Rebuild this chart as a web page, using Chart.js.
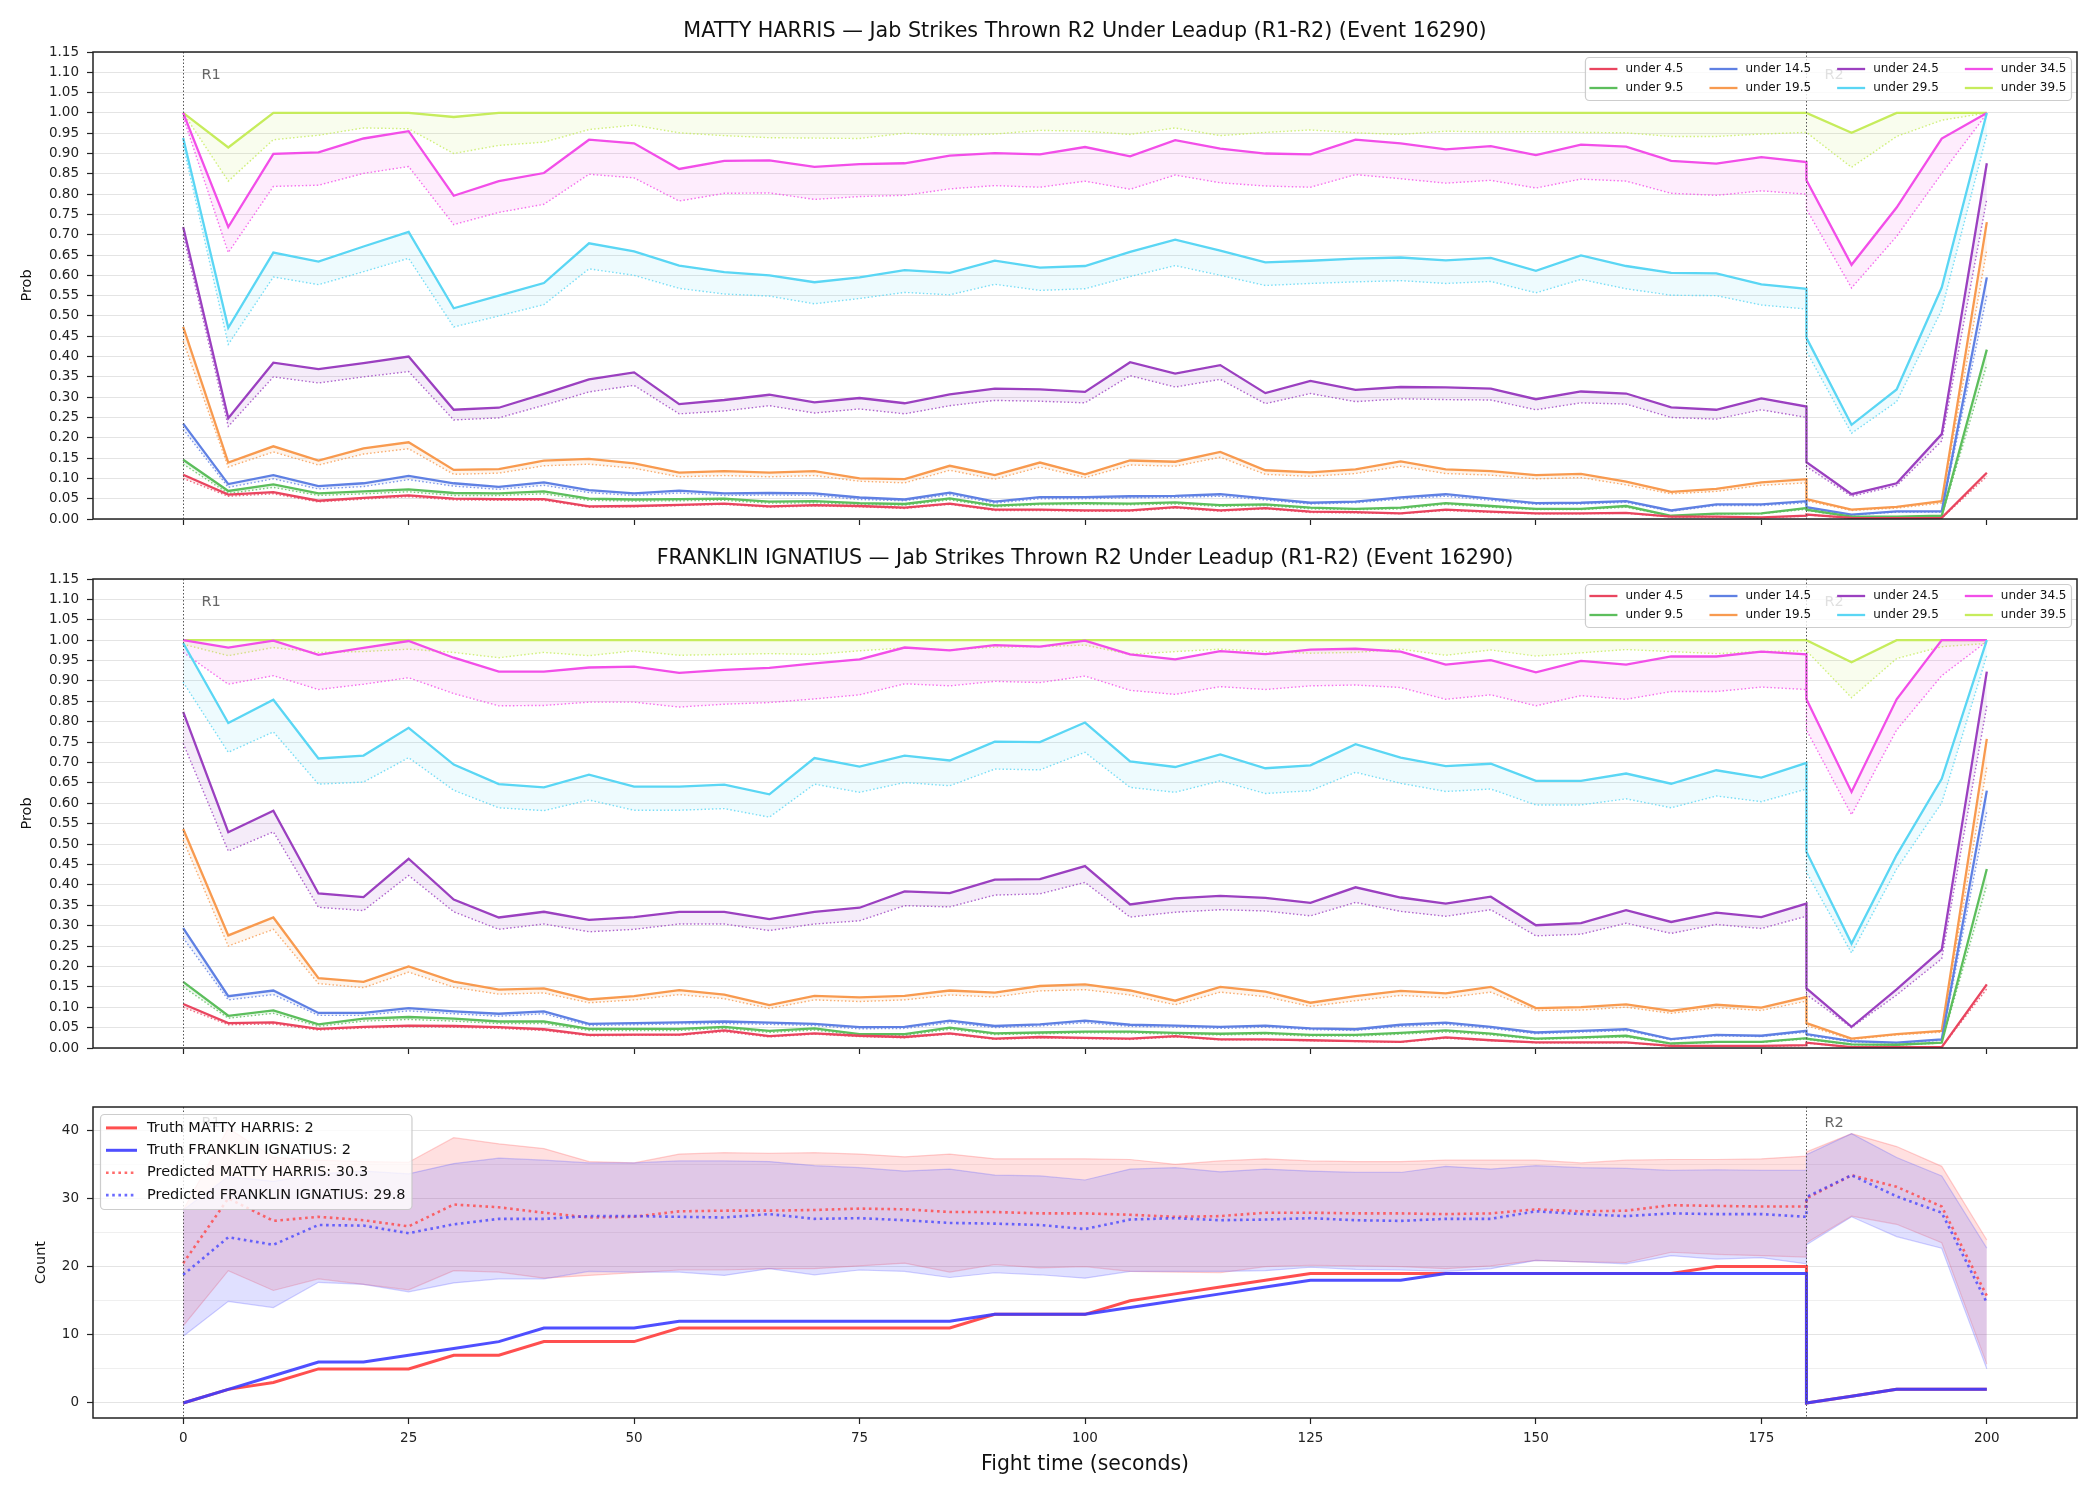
<!DOCTYPE html>
<html>
<head>
<meta charset="utf-8">
<script src="https://cdn.jsdelivr.net/npm/chart.js@4.4.0/dist/chart.umd.min.js"></script>
<style>
  html, body { margin: 0; padding: 0; background: #fff; }
  #wrap { position: relative; width: 2100px; height: 1500px; }
  canvas { position: absolute; left: 0; }
</style>
</head>
<body>
<div id="wrap">
  <canvas id="c1" width="2100" height="540" style="top:0;width:2100px;height:540px"></canvas>
  <canvas id="c2" width="2100" height="530" style="top:540px;width:2100px;height:530px"></canvas>
  <canvas id="c3" width="2100" height="430" style="top:1070px;width:2100px;height:430px"></canvas>
</div>
<script>
/* ----- time axis (R1 runs 0..180, R2 restarts at 180) ----- */
const timeR1 = [0,5,10,15,20,25,30,35,40,45,50,55,60,65,70,75,80,85,90,95,100,105,110,115,120,125,130,135,140,145,150,155,160,165,170,175,180];
const timeR2 = [180,185,190,195,200];
const xTicks = [0,25,50,75,100,125,150,175,200];
const probTicks = [0,0.05,0.1,0.15,0.2,0.25,0.3,0.35,0.4,0.45,0.5,0.55,0.6,0.65,0.7,0.75,0.8,0.85,0.9,0.95,1,1.05,1.1,1.15];
const countTicks = [0,5,10,15,20,25,30,35,40];
const roundStarts = [0, 180];
const roundLabels = ['R1', 'R2'];
const thresholds = ['under 4.5','under 9.5','under 14.5','under 19.5','under 24.5','under 29.5','under 34.5','under 39.5'];

/* ----- MATTY HARRIS : prob lines (solid) and lower dotted ----- */
const harrisU4   = [0.109,0.06,0.066,0.045,0.052,0.058,0.05,0.049,0.049,0.031,0.032,0.035,0.038,0.031,0.034,0.032,0.028,0.038,0.023,0.023,0.021,0.021,0.029,0.021,0.027,0.018,0.017,0.014,0.023,0.018,0.014,0.014,0.015,0.006,0.006,0.004,0.008, 0.011,0.003,0.002,0.003,0.114];
const harrisU4Lo = [0.10,0.056,0.062,0.042,0.049,0.055,0.047,0.046,0.046,0.029,0.03,0.033,0.036,0.029,0.032,0.03,0.026,0.036,0.021,0.021,0.019,0.019,0.027,0.019,0.025,0.016,0.015,0.013,0.021,0.016,0.013,0.013,0.014,0.005,0.005,0.003,0.007, 0.01,0.002,0.002,0.002,0.105];
const harrisU9   = [0.146,0.069,0.085,0.063,0.068,0.073,0.064,0.063,0.068,0.05,0.048,0.049,0.05,0.043,0.044,0.039,0.037,0.051,0.033,0.038,0.039,0.038,0.041,0.034,0.036,0.028,0.025,0.028,0.039,0.032,0.025,0.025,0.032,0.008,0.013,0.014,0.027, 0.023,0.006,0.006,0.008,0.417];
const harrisU9Lo = [0.135,0.063,0.078,0.058,0.062,0.067,0.058,0.058,0.062,0.046,0.044,0.045,0.046,0.039,0.04,0.036,0.034,0.047,0.03,0.035,0.036,0.035,0.037,0.031,0.033,0.025,0.023,0.025,0.036,0.029,0.023,0.023,0.029,0.007,0.012,0.013,0.024, 0.021,0.005,0.005,0.007,0.38];
const harrisU14   = [0.235,0.086,0.108,0.081,0.088,0.106,0.088,0.079,0.09,0.071,0.063,0.07,0.063,0.064,0.063,0.053,0.048,0.065,0.043,0.054,0.054,0.056,0.057,0.061,0.051,0.04,0.043,0.053,0.061,0.05,0.039,0.04,0.044,0.021,0.036,0.036,0.044, 0.029,0.011,0.019,0.019,0.595];
const harrisU14Lo = [0.221,0.078,0.099,0.074,0.08,0.097,0.081,0.073,0.083,0.065,0.058,0.064,0.058,0.059,0.058,0.048,0.045,0.06,0.039,0.05,0.05,0.052,0.053,0.056,0.047,0.037,0.04,0.049,0.056,0.046,0.036,0.037,0.041,0.019,0.033,0.033,0.04, 0.027,0.01,0.017,0.017,0.55];
const harrisU19   = [0.473,0.139,0.179,0.144,0.174,0.189,0.121,0.123,0.144,0.148,0.137,0.114,0.118,0.114,0.118,0.10,0.098,0.131,0.108,0.139,0.11,0.144,0.141,0.165,0.12,0.115,0.122,0.142,0.122,0.118,0.108,0.111,0.092,0.067,0.074,0.09,0.098, 0.049,0.023,0.03,0.044,0.731];
const harrisU19Lo = [0.438,0.128,0.165,0.133,0.16,0.173,0.11,0.113,0.131,0.135,0.125,0.104,0.107,0.104,0.107,0.093,0.089,0.12,0.098,0.128,0.102,0.133,0.13,0.152,0.11,0.105,0.112,0.13,0.112,0.108,0.099,0.102,0.084,0.062,0.068,0.083,0.089, 0.045,0.021,0.027,0.039,0.663];
const harrisU24   = [0.719,0.248,0.385,0.369,0.384,0.40,0.269,0.274,0.308,0.344,0.361,0.283,0.293,0.306,0.287,0.298,0.285,0.307,0.321,0.319,0.313,0.386,0.358,0.379,0.31,0.34,0.318,0.325,0.324,0.321,0.295,0.314,0.309,0.275,0.269,0.297,0.277, 0.14,0.061,0.088,0.209,0.876];
const harrisU24Lo = [0.70,0.228,0.35,0.335,0.35,0.363,0.244,0.249,0.28,0.313,0.329,0.259,0.266,0.279,0.261,0.271,0.259,0.279,0.292,0.29,0.286,0.353,0.325,0.344,0.284,0.309,0.289,0.296,0.294,0.293,0.269,0.286,0.283,0.25,0.246,0.269,0.25, 0.129,0.056,0.082,0.192,0.788];
const harrisU29   = [0.938,0.471,0.656,0.634,0.671,0.707,0.519,0.55,0.581,0.679,0.659,0.624,0.608,0.60,0.583,0.595,0.613,0.606,0.636,0.619,0.623,0.658,0.688,0.661,0.632,0.636,0.641,0.644,0.637,0.643,0.611,0.649,0.623,0.606,0.605,0.578,0.567, 0.446,0.232,0.319,0.57,1.0];
const harrisU29Lo = [0.92,0.43,0.596,0.577,0.609,0.642,0.473,0.50,0.528,0.616,0.60,0.568,0.554,0.549,0.53,0.543,0.558,0.552,0.578,0.563,0.567,0.597,0.624,0.60,0.575,0.58,0.584,0.587,0.58,0.585,0.557,0.59,0.567,0.551,0.55,0.527,0.517, 0.413,0.211,0.289,0.515,0.947];
const harrisU34   = [1.0,0.719,0.899,0.903,0.937,0.955,0.796,0.832,0.852,0.934,0.925,0.862,0.882,0.883,0.867,0.874,0.876,0.895,0.901,0.898,0.916,0.893,0.933,0.912,0.90,0.898,0.934,0.925,0.91,0.918,0.896,0.922,0.917,0.882,0.875,0.891,0.879, 0.834,0.626,0.767,0.937,1.0];
const harrisU34Lo = [0.99,0.656,0.819,0.822,0.851,0.868,0.725,0.755,0.775,0.849,0.84,0.783,0.802,0.803,0.787,0.794,0.797,0.813,0.821,0.817,0.832,0.812,0.847,0.828,0.82,0.817,0.848,0.838,0.827,0.834,0.815,0.837,0.832,0.802,0.797,0.808,0.80, 0.763,0.569,0.696,0.851,0.998];
const harrisU39   = [1.0,0.915,1.0,1.0,1.0,1.0,0.99,1.0,1.0,1.0,1.0,1.0,1.0,1.0,1.0,1.0,1.0,1.0,1.0,1.0,1.0,1.0,1.0,1.0,1.0,1.0,1.0,1.0,1.0,1.0,1.0,1.0,1.0,1.0,1.0,1.0,1.0, 1.0,0.951,1.0,1.0,1.0];
const harrisU39Lo = [1.0,0.832,0.934,0.945,0.963,0.961,0.90,0.92,0.928,0.959,0.97,0.951,0.944,0.939,0.938,0.937,0.95,0.945,0.948,0.957,0.955,0.947,0.963,0.944,0.952,0.958,0.951,0.947,0.955,0.953,0.954,0.952,0.951,0.942,0.942,0.948,0.952, 0.952,0.866,0.942,0.982,1.0];

/* ----- FRANKLIN IGNATIUS ----- */
const franklinU4   = [0.108,0.061,0.063,0.047,0.052,0.055,0.054,0.051,0.046,0.032,0.033,0.033,0.043,0.029,0.036,0.03,0.027,0.036,0.023,0.027,0.025,0.023,0.029,0.021,0.021,0.019,0.017,0.015,0.026,0.019,0.014,0.014,0.014,0.005,0.005,0.005,0.007, 0.013,0.002,0.002,0.002,0.156];
const franklinU4Lo = [0.10,0.057,0.059,0.044,0.049,0.052,0.051,0.048,0.043,0.03,0.031,0.031,0.04,0.027,0.034,0.028,0.025,0.034,0.021,0.025,0.023,0.021,0.027,0.02,0.02,0.018,0.016,0.014,0.024,0.018,0.013,0.013,0.013,0.004,0.004,0.004,0.006, 0.012,0.002,0.002,0.002,0.145];
const franklinU9   = [0.162,0.079,0.092,0.058,0.072,0.076,0.072,0.065,0.065,0.047,0.047,0.047,0.052,0.042,0.048,0.034,0.034,0.05,0.036,0.038,0.04,0.04,0.037,0.035,0.037,0.032,0.032,0.037,0.043,0.035,0.023,0.026,0.03,0.011,0.015,0.015,0.024, 0.023,0.009,0.008,0.013,0.439];
const franklinU9Lo = [0.15,0.073,0.085,0.053,0.066,0.07,0.066,0.06,0.06,0.043,0.043,0.043,0.048,0.038,0.044,0.031,0.031,0.046,0.033,0.035,0.037,0.037,0.034,0.032,0.034,0.029,0.029,0.034,0.039,0.032,0.021,0.024,0.027,0.01,0.014,0.014,0.022, 0.021,0.008,0.007,0.012,0.40];
const franklinU14   = [0.294,0.127,0.141,0.086,0.086,0.098,0.09,0.084,0.09,0.059,0.061,0.063,0.065,0.062,0.059,0.051,0.052,0.067,0.054,0.058,0.067,0.057,0.055,0.052,0.055,0.048,0.046,0.057,0.062,0.052,0.038,0.042,0.046,0.022,0.032,0.03,0.042, 0.034,0.017,0.013,0.021,0.631];
const franklinU14Lo = [0.27,0.118,0.131,0.08,0.08,0.091,0.084,0.078,0.084,0.055,0.057,0.059,0.06,0.058,0.055,0.047,0.048,0.062,0.05,0.054,0.062,0.053,0.051,0.048,0.051,0.045,0.043,0.053,0.058,0.048,0.035,0.039,0.043,0.02,0.03,0.028,0.039, 0.031,0.015,0.012,0.019,0.58];
const franklinU19   = [0.537,0.276,0.32,0.171,0.162,0.20,0.163,0.143,0.146,0.119,0.127,0.142,0.131,0.105,0.128,0.124,0.128,0.141,0.136,0.152,0.156,0.141,0.116,0.15,0.138,0.111,0.127,0.14,0.134,0.15,0.098,0.10,0.107,0.091,0.106,0.099,0.125, 0.061,0.023,0.034,0.042,0.758];
const franklinU19Lo = [0.51,0.25,0.291,0.158,0.148,0.186,0.149,0.132,0.135,0.111,0.118,0.131,0.121,0.097,0.118,0.114,0.118,0.13,0.125,0.14,0.143,0.13,0.106,0.137,0.126,0.102,0.116,0.129,0.123,0.137,0.092,0.093,0.10,0.085,0.099,0.092,0.115, 0.055,0.021,0.032,0.039,0.689];
const franklinU24   = [0.824,0.529,0.582,0.379,0.37,0.464,0.364,0.32,0.334,0.314,0.321,0.334,0.334,0.316,0.334,0.344,0.384,0.38,0.413,0.414,0.446,0.352,0.367,0.373,0.368,0.356,0.394,0.369,0.354,0.371,0.301,0.306,0.338,0.309,0.332,0.321,0.354, 0.146,0.052,0.144,0.241,0.923];
const franklinU24Lo = [0.747,0.483,0.53,0.345,0.337,0.423,0.334,0.291,0.304,0.285,0.291,0.304,0.304,0.288,0.304,0.312,0.349,0.346,0.375,0.378,0.406,0.321,0.333,0.339,0.336,0.324,0.357,0.335,0.323,0.339,0.275,0.279,0.306,0.281,0.303,0.293,0.323, 0.131,0.05,0.13,0.219,0.839];
const franklinU29   = [0.993,0.797,0.854,0.71,0.717,0.785,0.695,0.647,0.639,0.67,0.641,0.641,0.646,0.622,0.711,0.69,0.717,0.705,0.751,0.75,0.798,0.703,0.689,0.72,0.686,0.693,0.745,0.712,0.691,0.697,0.655,0.655,0.673,0.648,0.681,0.663,0.699, 0.481,0.256,0.473,0.66,1.0];
const franklinU29Lo = [0.897,0.725,0.775,0.647,0.652,0.712,0.632,0.589,0.582,0.608,0.583,0.583,0.587,0.566,0.647,0.627,0.651,0.643,0.684,0.682,0.725,0.639,0.627,0.655,0.624,0.631,0.676,0.649,0.629,0.635,0.596,0.596,0.611,0.589,0.618,0.604,0.635, 0.431,0.233,0.439,0.601,0.963];
const franklinU34   = [1.0,0.982,0.999,0.964,0.981,0.998,0.957,0.923,0.923,0.933,0.935,0.92,0.927,0.932,0.943,0.953,0.982,0.975,0.988,0.984,0.999,0.965,0.953,0.973,0.966,0.977,0.979,0.972,0.94,0.951,0.921,0.949,0.94,0.96,0.96,0.972,0.965, 0.855,0.628,0.855,1.0,1.0];
const franklinU34Lo = [0.97,0.892,0.913,0.879,0.892,0.908,0.869,0.839,0.84,0.848,0.848,0.836,0.843,0.847,0.856,0.866,0.893,0.888,0.899,0.896,0.912,0.877,0.867,0.886,0.879,0.888,0.89,0.884,0.855,0.866,0.839,0.864,0.855,0.874,0.874,0.885,0.879, 0.78,0.572,0.78,0.913,0.997];
const franklinU39   = [1.0,1.0,1.0,1.0,1.0,1.0,1.0,1.0,1.0,1.0,1.0,1.0,1.0,1.0,1.0,1.0,1.0,1.0,1.0,1.0,1.0,1.0,1.0,1.0,1.0,1.0,1.0,1.0,1.0,1.0,1.0,1.0,1.0,1.0,1.0,1.0,1.0, 1.0,0.946,1.0,1.0,1.0];
const franklinU39Lo = [0.99,0.962,0.982,0.97,0.972,0.978,0.97,0.957,0.97,0.962,0.974,0.963,0.965,0.967,0.965,0.974,0.981,0.976,0.983,0.984,0.988,0.965,0.972,0.978,0.972,0.968,0.97,0.978,0.963,0.976,0.961,0.969,0.977,0.972,0.967,0.972,0.974, 0.974,0.859,0.955,0.984,0.992];

/* ----- counts panel ----- */
const truthHarris   = [0,2,3,5,5,5,7,7,9,9,9,11,11,11,11,11,11,11,13,13,13,15,16,17,18,19,19,19,19,19,19,19,19,19,20,20,20, 0,1,2,2,2];
const truthFranklin = [0,2,4,6,6,7,8,9,11,11,11,12,12,12,12,12,12,12,13,13,13,14,15,16,17,18,18,18,19,19,19,19,19,19,19,19,19, 0,1,2,2,2];
const predHarris    = [20.5,30.0,26.7,27.3,26.8,25.9,29.1,28.7,27.9,27.2,27.3,28.1,28.2,28.2,28.3,28.5,28.4,28.0,28.0,27.8,27.8,27.6,27.3,27.4,27.9,27.9,27.8,27.8,27.7,27.8,28.4,28.1,28.2,29.0,28.9,28.8,28.8, 30.0,33.4,31.7,28.8,15.7];
const predFranklin  = [18.8,24.3,23.2,26.1,26.0,24.9,26.2,27.0,27.0,27.4,27.4,27.3,27.2,27.7,27.0,27.1,26.8,26.4,26.3,26.1,25.5,26.9,27.1,26.8,26.9,27.1,26.8,26.7,27.0,27.0,28.1,27.7,27.4,27.8,27.7,27.7,27.3, 30.2,33.4,30.3,27.9,14.7];
const bandHarrisHi  = [28.3,40.3,36.0,35.6,35.4,35.3,38.9,38.0,37.3,35.4,35.2,36.5,36.7,36.6,36.7,36.5,36.1,36.5,35.8,35.8,35.8,35.7,35.0,35.5,35.8,35.5,35.4,35.4,35.6,35.6,35.6,35.2,35.6,35.7,35.7,35.8,36.2, 36.8,39.5,37.6,34.7,23.9];
const bandHarrisLo  = [11.3,19.4,16.5,18.2,17.4,16.6,19.4,19.2,18.3,18.7,19.1,19.5,19.5,19.7,19.7,20.1,20.5,19.2,20.3,19.8,20.0,19.3,19.2,19.1,20.0,20.2,20.1,20.0,19.7,20.1,20.9,20.7,20.6,22.1,21.8,21.6,21.4, 23.5,27.4,26.2,23.5,5.7];
const bandFranklinHi = [28.3,33.2,32.5,33.6,34.0,33.6,35.1,35.9,35.6,35.2,35.2,35.5,35.5,35.4,34.8,34.5,34.0,34.3,33.4,33.3,32.7,34.3,34.5,33.9,34.3,34.0,33.8,33.8,34.7,34.3,34.8,34.5,34.4,34.1,34.2,34.1,34.1, 36.4,39.5,36.0,33.3,22.7];
const bandFranklinLo = [9.8,14.9,14.0,17.7,17.4,16.3,17.6,18.2,18.2,19.3,19.2,19.2,18.7,19.7,18.8,19.5,19.3,18.4,19.1,18.8,18.3,19.3,19.3,19.3,19.4,19.9,19.6,19.5,19.3,19.7,20.9,20.7,20.4,21.6,21.1,21.3,20.4, 23.2,27.3,24.4,22.7,5.0];

/* ----- estilos ----- */
const seriesColors = ['#e9455f','#5cbe5c','#5f80e3','#f89a4f','#9b40c0','#5ad6f4','#f24ee8','#c6ec5c'];
const FONT = "'DejaVu Sans', sans-serif";
Chart.defaults.font.family = FONT;
Chart.defaults.color = '#222';

const fightTimes = timeR1.concat(timeR2);
const toPoints = vals => vals.map((v, i) => ({ x: fightTimes[i], y: v }));

function withAlpha(hex, a) {
  const n = parseInt(hex.slice(1), 16);
  return `rgba(${(n >> 16) & 255},${(n >> 8) & 255},${n & 255},${a})`;
}

/* legenda desenhada dentro da área do gráfico */
function drawLegend(ctx, items, o) {
  ctx.save();
  ctx.font = o.font;
  const nrow = Math.ceil(items.length / o.ncol);
  const colW = [];
  for (let c = 0; c < o.ncol; c++) {
    let m = 0;
    for (let r = 0; r < nrow; r++) {
      const it = items[c * nrow + r];
      if (it) m = Math.max(m, ctx.measureText(it.label).width);
    }
    colW.push(o.handleLen + o.handlePad + m);
  }
  const w = o.padX * 2 + colW.reduce((s, v) => s + v, 0) + o.colGap * (o.ncol - 1);
  const h = o.padY * 2 + nrow * o.rowH;
  const left = o.align === 'right' ? o.x - w : o.x;
  const top = o.y;
  ctx.beginPath();
  ctx.roundRect(left + 0.5, top + 0.5, w, h, 4);
  ctx.fillStyle = 'rgba(255,255,255,0.8)';
  ctx.fill();
  ctx.strokeStyle = 'rgba(200,200,200,0.9)';
  ctx.lineWidth = 1.2;
  ctx.stroke();
  let cx = left + o.padX;
  for (let c = 0; c < o.ncol; c++) {
    for (let r = 0; r < nrow; r++) {
      const it = items[c * nrow + r];
      if (!it) continue;
      const yy = top + o.padY + r * o.rowH + o.rowH / 2;
      ctx.strokeStyle = it.color;
      ctx.lineWidth = it.width;
      ctx.setLineDash(it.dash || []);
      ctx.beginPath();
      ctx.moveTo(cx, yy);
      ctx.lineTo(cx + o.handleLen, yy);
      ctx.stroke();
      ctx.setLineDash([]);
      ctx.fillStyle = '#111';
      ctx.textBaseline = 'middle';
      ctx.textAlign = 'left';
      ctx.fillText(it.label, cx + o.handleLen + o.handlePad, yy);
    }
    cx += colW[c] + o.colGap;
  }
  ctx.restore();
}

/* plugin: linhas de round, legenda, moldura, títulos */
const decor = {
  id: 'decor',
  afterDatasetsDraw(chart, args, opts) {
    const { ctx, chartArea: a } = chart;
    const x = chart.scales.x;
    ctx.save();
    ctx.beginPath();
    ctx.rect(a.left, a.top, a.right - a.left, a.bottom - a.top);
    ctx.clip();
    roundStarts.forEach((t, i) => {
      const px = Math.round(x.getPixelForValue(t)) + 0.5;
      ctx.strokeStyle = '#555';
      ctx.lineWidth = 1;
      ctx.setLineDash([1.5, 2]);
      ctx.beginPath();
      ctx.moveTo(px, a.top);
      ctx.lineTo(px, a.bottom);
      ctx.stroke();
      ctx.setLineDash([]);
      ctx.fillStyle = '#666';
      ctx.font = `14.5px ${FONT}`;
      ctx.textBaseline = 'middle';
      ctx.textAlign = 'left';
      ctx.fillText(roundLabels[i], px + 18, a.top + opts.markY);
    });
    ctx.restore();
    const lg = opts.legend;
    drawLegend(ctx, lg.items, Object.assign({}, lg, {
      x: lg.align === 'right' ? a.right - lg.offX : a.left + lg.offX,
      y: a.top + lg.offY
    }));
  },
  afterDraw(chart, args, opts) {
    const { ctx, chartArea: a } = chart;
    ctx.save();
    ctx.strokeStyle = '#222';
    ctx.lineWidth = 1.5;
    ctx.strokeRect(a.left, a.top, a.right - a.left, a.bottom - a.top);
    ctx.fillStyle = '#111';
    ctx.textAlign = 'center';
    ctx.textBaseline = 'middle';
    if (opts.title) {
      ctx.font = `20.7px ${FONT}`;
      ctx.fillText(opts.title, (a.left + a.right) / 2, opts.titleY);
    }
    if (opts.xLabel) {
      ctx.font = `20.4px ${FONT}`;
      ctx.fillText(opts.xLabel, (a.left + a.right) / 2, opts.xLabelY);
    }
    ctx.font = `14.5px ${FONT}`;
    ctx.translate(opts.yLabelX, (a.top + a.bottom) / 2);
    ctx.rotate(-Math.PI / 2);
    ctx.fillText(opts.yLabel, 0, 0);
    ctx.restore();
  }
};

function xScale(showLabels, height) {
  return {
    type: 'linear', min: -10, max: 210,
    afterBuildTicks: s => { s.ticks = xTicks.map(v => ({ value: v })); },
    afterFit: s => { s.height = height; },
    grid: { drawOnChartArea: false, tickLength: 6, tickColor: '#222', tickWidth: 1.2 },
    border: { display: false },
    ticks: { display: showLabels, maxRotation: 0, autoSkip: false, padding: 6, font: { size: 13.5 }, color: '#222' }
  };
}

/* ----- painel de probabilidade ----- */
function probChart(id, title, lines, lows, padTop, xHeight, titleY) {
  const datasets = [];
  thresholds.forEach((name, i) => {
    const col = seriesColors[i];
    datasets.push({
      label: name, data: toPoints(lines[i]), borderColor: col, borderWidth: 2.3,
      pointRadius: 0, fill: '+1', backgroundColor: withAlpha(col, 0.1)
    });
    datasets.push({
      label: name + ' (low)', data: toPoints(lows[i]), borderColor: withAlpha(col, 0.8), borderWidth: 1.4,
      borderDash: [1.5, 2.2], pointRadius: 0, fill: false
    });
  });
  return new Chart(document.getElementById(id), {
    type: 'line',
    data: { datasets },
    options: {
      responsive: false, maintainAspectRatio: false, animation: false, devicePixelRatio: 1,
      layout: { padding: { left: 0, right: 23, top: padTop, bottom: 0 } },
      plugins: {
        legend: { display: false }, tooltip: { enabled: false },
        decor: {
          title, titleY, yLabel: 'Prob', yLabelX: 27, markY: 23,
          legend: {
            items: thresholds.map((t, i) => ({ label: t, color: seriesColors[i], width: 2.3 })),
            ncol: 4, font: `12px ${FONT}`, rowH: 19, padX: 4.5, padY: 2.5,
            handleLen: 28, handlePad: 8, colGap: 26, align: 'right', offX: 6, offY: 5
          }
        }
      },
      scales: {
        x: xScale(false, xHeight),
        y: {
          min: 0, max: 1.15,
          afterBuildTicks: s => { s.ticks = probTicks.map(v => ({ value: v })); },
          afterFit: s => { s.width = 93; },
          grid: { color: '#e4e4e4', lineWidth: 1, tickLength: 6, tickColor: '#222', tickWidth: 1.2 },
          border: { display: false },
          ticks: { autoSkip: false, padding: 8, font: { size: 13.5 }, color: '#222', callback: v => v.toFixed(2) }
        }
      }
    },
    plugins: [decor]
  });
}

probChart('c1', 'MATTY HARRIS \u2014 Jab Strikes Thrown R2 Under Leadup (R1-R2) (Event 16290)',
  [harrisU4, harrisU9, harrisU14, harrisU19, harrisU24, harrisU29, harrisU34, harrisU39],
  [harrisU4Lo, harrisU9Lo, harrisU14Lo, harrisU19Lo, harrisU24Lo, harrisU29Lo, harrisU34Lo, harrisU39Lo],
  52, 21, 32);

probChart('c2', 'FRANKLIN IGNATIUS \u2014 Jab Strikes Thrown R2 Under Leadup (R1-R2) (Event 16290)',
  [franklinU4, franklinU9, franklinU14, franklinU19, franklinU24, franklinU29, franklinU34, franklinU39],
  [franklinU4Lo, franklinU9Lo, franklinU14Lo, franklinU19Lo, franklinU24Lo, franklinU29Lo, franklinU34Lo, franklinU39Lo],
  39, 22, 19);

/* ----- painel de contagem ----- */
const RED = 'rgba(255,60,60,0.9)';
const BLUE = 'rgba(60,60,255,0.9)';
new Chart(document.getElementById('c3'), {
  type: 'line',
  data: {
    datasets: [
      { label: 'Truth FRANKLIN IGNATIUS', data: toPoints(truthFranklin), borderColor: BLUE, borderWidth: 3, pointRadius: 0, fill: false },
      { label: 'Truth MATTY HARRIS', data: toPoints(truthHarris), borderColor: RED, borderWidth: 3, pointRadius: 0, fill: false },
      { label: 'Predicted FRANKLIN IGNATIUS', data: toPoints(predFranklin), borderColor: 'rgba(70,70,255,0.8)', borderWidth: 2.6, borderDash: [2.6, 3.6], pointRadius: 0, fill: false },
      { label: 'Predicted MATTY HARRIS', data: toPoints(predHarris), borderColor: 'rgba(255,70,70,0.8)', borderWidth: 2.6, borderDash: [2.6, 3.6], pointRadius: 0, fill: false },
      { label: 'band F hi', data: toPoints(bandFranklinHi), borderColor: 'rgba(100,100,255,0.3)', borderWidth: 1.2, pointRadius: 0, fill: '+1', backgroundColor: 'rgba(100,100,255,0.2)' },
      { label: 'band F lo', data: toPoints(bandFranklinLo), borderColor: 'rgba(100,100,255,0.3)', borderWidth: 1.2, pointRadius: 0, fill: false },
      { label: 'band H hi', data: toPoints(bandHarrisHi), borderColor: 'rgba(255,100,100,0.3)', borderWidth: 1.2, pointRadius: 0, fill: '+1', backgroundColor: 'rgba(255,100,100,0.2)' },
      { label: 'band H lo', data: toPoints(bandHarrisLo), borderColor: 'rgba(255,100,100,0.3)', borderWidth: 1.2, pointRadius: 0, fill: false }
    ]
  },
  options: {
    responsive: false, maintainAspectRatio: false, animation: false, devicePixelRatio: 1,
    layout: { padding: { left: 0, right: 23, top: 37, bottom: 0 } },
    plugins: {
      legend: { display: false }, tooltip: { enabled: false },
      decor: {
        xLabel: 'Fight time (seconds)', xLabelY: 395, yLabel: 'Count', yLabelX: 41, markY: 16,
        legend: {
          items: [
            { label: 'Truth MATTY HARRIS: 2', color: RED, width: 3 },
            { label: 'Truth FRANKLIN IGNATIUS: 2', color: BLUE, width: 3 },
            { label: 'Predicted MATTY HARRIS: 30.3', color: 'rgba(255,70,70,0.8)', width: 2.6, dash: [2.6, 3.6] },
            { label: 'Predicted FRANKLIN IGNATIUS: 29.8', color: 'rgba(70,70,255,0.8)', width: 2.6, dash: [2.6, 3.6] }
          ],
          ncol: 1, font: `14.5px ${FONT}`, rowH: 22.4, padX: 6, padY: 2.7,
          handleLen: 31, handlePad: 10, colGap: 0, align: 'left', offX: 7, offY: 7
        }
      }
    },
    scales: {
      x: xScale(true, 82),
      y: {
        min: -2.2, max: 43.4,
        afterBuildTicks: s => { s.ticks = countTicks.map(v => ({ value: v })); },
        afterFit: s => { s.width = 93; },
        grid: {
          color: c => (c.tick && c.tick.value % 10 === 0) ? '#e4e4e4' : '#efefef',
          tickLength: 6, tickWidth: 1.2,
          tickColor: c => (c.tick && c.tick.value % 10 === 0) ? '#222' : 'rgba(0,0,0,0)'
        },
        border: { display: false },
        ticks: { autoSkip: false, padding: 8, font: { size: 13.5 }, color: '#222', callback: v => (v % 10 === 0 ? String(v) : '') }
      }
    }
  },
  plugins: [decor]
});
</script>
</body>
</html>
